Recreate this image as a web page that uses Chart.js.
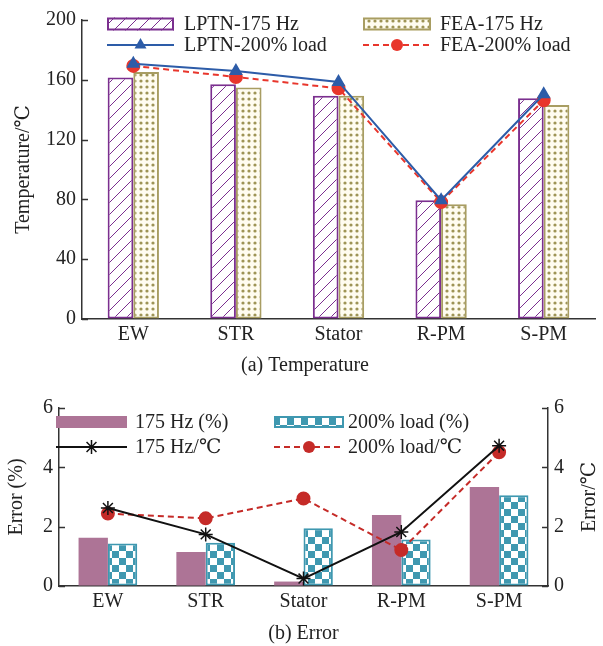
<!DOCTYPE html>
<html>
<head>
<meta charset="utf-8">
<script src="https://cdn.jsdelivr.net/npm/chart.js@4"></script>
<style>
  html, body { margin: 0; padding: 0; background: #fff; }
  #wrap { position: relative; width: 603px; height: 646px; }
  .box { position: absolute; left: 0; width: 603px; }
</style>
</head>
<body>
<div id="wrap">
  <div class="box" style="top:0;height:390px"><canvas id="tempChart"></canvas></div>
  <div class="box" style="top:390px;height:256px"><canvas id="errChart"></canvas></div>
</div>
<script>
// data
const categories = ["EW", "STR", "Stator", "R-PM", "S-PM"];
const lptn175 = [161.5, 157, 149.4, 79.5, 147.7];
const fea175 = [165.3, 154.8, 149.4, 76.8, 143.2];
const lptn200 = [170.8, 165.9, 158.6, 79.5, 150.3];
const fea200 = [169.3, 161.9, 154.3, 78.2, 146.3];

const err175Pct = [1.63, 1.15, 0.15, 2.39, 3.34];
const err200Pct = [1.43, 1.46, 1.95, 1.57, 3.06];
const err175C = [2.63, 1.74, 0.25, 1.82, 4.73];
const err200C = [2.44, 2.28, 2.95, 1.21, 4.51];

const PURPLE = "#7b2f8f", OLIVE = "#a89d62", BLUE = "#2d5ca8", RED = "#e8362c";
const MAUVE = "#ad7496", TEAL = "#3f98b0", DARKRED = "#c52b28";
const FONT = '"Liberation Serif", "DejaVu Serif", "Times New Roman", serif';

Chart.defaults.font.family = FONT;
Chart.defaults.font.size = 20;
Chart.defaults.color = "#222";

// ---- fill patterns ----
function hatchPattern(color) {
  const c = document.createElement("canvas");
  c.width = c.height = 12;
  const g = c.getContext("2d");
  g.fillStyle = "#fff"; g.fillRect(0, 0, 12, 12);
  g.strokeStyle = color; g.lineWidth = 1;
  g.beginPath();
  g.moveTo(0, 12); g.lineTo(12, 0);
  g.moveTo(-2, 2); g.lineTo(2, -2);
  g.moveTo(10, 14); g.lineTo(14, 10);
  g.stroke();
  return g.createPattern(c, "repeat");
}
function dotPattern(color) {
  const c = document.createElement("canvas");
  c.width = c.height = 6;
  const g = c.getContext("2d");
  g.fillStyle = "#fffcf0"; g.fillRect(0, 0, 6, 6);
  g.fillStyle = color;
  g.beginPath(); g.arc(3, 3, 1.6, 0, Math.PI * 2); g.fill();
  return g.createPattern(c, "repeat");
}
function checkPattern(color) {
  const c = document.createElement("canvas");
  c.width = c.height = 14;
  const g = c.getContext("2d");
  g.fillStyle = color; g.fillRect(0, 0, 14, 14);
  g.fillStyle = "#fff";
  g.fillRect(0, 0, 7, 7); g.fillRect(7, 7, 7, 7);
  return g.createPattern(c, "repeat");
}
const hatch = hatchPattern(PURPLE);
const dots = dotPattern("#9e9455");
const checks = checkPattern(TEAL);

// ---- small marker drawer for the legend ----
function marker(ctx, style, x, y, r, color) {
  ctx.save();
  ctx.fillStyle = color; ctx.strokeStyle = color; ctx.lineWidth = 1.5;
  ctx.beginPath();
  if (style === "circle") {
    ctx.arc(x, y, r, 0, Math.PI * 2); ctx.fill();
  } else if (style === "triangle") {
    ctx.moveTo(x, y - r * 1.15); ctx.lineTo(x + r, y + r * 0.6); ctx.lineTo(x - r, y + r * 0.6);
    ctx.closePath(); ctx.fill();
  } else if (style === "star") {
    for (let i = 0; i < 4; i++) {
      const a = i * Math.PI / 4;
      ctx.moveTo(x - r * Math.cos(a), y - r * Math.sin(a));
      ctx.lineTo(x + r * Math.cos(a), y + r * Math.sin(a));
    }
    ctx.stroke();
  }
  ctx.restore();
}

// legend drawn inside the plot area
const inLegend = {
  id: "inLegend",
  afterDatasetsDraw(chart, args, opts) {
    const ctx = chart.ctx;
    ctx.save();
    ctx.font = "20px " + FONT;
    ctx.textBaseline = "middle";
    for (const it of opts.items) {
      if (it.kind === "box") {
        ctx.fillStyle = it.fill;
        ctx.fillRect(it.x1, it.y - it.h / 2, it.x2 - it.x1, it.h);
        if (it.stroke) {
          ctx.strokeStyle = it.stroke; ctx.lineWidth = 2;
          ctx.strokeRect(it.x1 + 1, it.y - it.h / 2 + 1, it.x2 - it.x1 - 2, it.h - 2);
        }
      } else {
        ctx.strokeStyle = it.color; ctx.lineWidth = it.width;
        ctx.setLineDash(it.dash || []);
        ctx.beginPath(); ctx.moveTo(it.x1, it.y); ctx.lineTo(it.x2, it.y); ctx.stroke();
        ctx.setLineDash([]);
        marker(ctx, it.point, (it.x1 + it.x2) / 2, it.y, it.r, it.color);
      }
      ctx.fillStyle = "#222";
      ctx.fillText(it.label, it.tx, it.y + 1);
    }
    ctx.restore();
  }
};

// tick marks pointing into the plot, plus optional right-hand title read bottom-up
const inTicks = {
  id: "inTicks",
  afterDraw(chart, args, opts) {
    const ctx = chart.ctx;
    ctx.save();
    ctx.strokeStyle = "#333"; ctx.lineWidth = 1.5;
    for (const id of opts.axes) {
      const s = chart.scales[id];
      const x0 = s.position === "left" ? s.right : s.left;
      const dir = s.position === "left" ? 1 : -1;
      s.ticks.forEach(t => {
        const y = Math.round(s.getPixelForValue(t.value)) + 0.5;
        ctx.beginPath(); ctx.moveTo(x0, y); ctx.lineTo(x0 + dir * 6, y); ctx.stroke();
      });
    }
    if (opts.rightTitle) {
      const a = chart.chartArea;
      ctx.translate(opts.rightTitle.x, (a.top + a.bottom) / 2);
      ctx.rotate(-Math.PI / 2);
      ctx.font = "20px " + FONT;
      ctx.fillStyle = "#222";
      ctx.textAlign = "center"; ctx.textBaseline = "middle";
      ctx.fillText(opts.rightTitle.text, 0, 0);
    }
    ctx.restore();
  }
};

const axisLine = { display: true, color: "#333", width: 1.5 };
const noGrid = { display: true, drawOnChartArea: false, drawTicks: false };

// ============================
// (a) Temperature
// ============================
new Chart(document.getElementById("tempChart"), {
  type: "bar",
  data: {
    labels: categories,
    datasets: [
      { type: "line", label: "LPTN-200% load", data: lptn200, borderColor: BLUE, backgroundColor: BLUE,
        borderWidth: 2, pointStyle: "triangle", pointRadius: 6, order: 0 },
      { type: "line", label: "FEA-200% load", data: fea200, borderColor: RED, backgroundColor: RED,
        borderWidth: 2, borderDash: [6, 4], pointStyle: "circle", pointRadius: 6, order: 0 },
      { label: "LPTN-175 Hz", data: lptn175, backgroundColor: hatch, borderColor: PURPLE,
        borderWidth: 2, borderSkipped: false, order: 1 },
      { label: "FEA-175 Hz", data: fea175, backgroundColor: dots, borderColor: OLIVE,
        borderWidth: 2, borderSkipped: false, order: 1 }
    ]
  },
  options: {
    responsive: true, maintainAspectRatio: false, animation: false,
    categoryPercentage: 0.5, barPercentage: 1,
    layout: { padding: { left: 12, right: 5, top: 20, bottom: 0 } },
    plugins: {
      legend: { display: false },
      tooltip: { enabled: false },
      title: { display: true, position: "bottom", text: "(a) Temperature", font: { size: 20, weight: "normal" },
        padding: { top: 10, bottom: 12 }, color: "#222" },
      inLegend: { items: [
        { kind: "box", x1: 107, x2: 174, y: 24, h: 13, fill: hatch, stroke: PURPLE, tx: 184, label: "LPTN-175 Hz" },
        { kind: "box", x1: 363, x2: 431, y: 24, h: 13, fill: dots, stroke: OLIVE, tx: 440, label: "FEA-175 Hz" },
        { kind: "line", x1: 107, x2: 174, y: 45, color: BLUE, width: 2, point: "triangle", r: 6, tx: 184, label: "LPTN-200% load" },
        { kind: "line", x1: 363, x2: 431, y: 45, color: RED, width: 2, dash: [6, 4], point: "circle", r: 6, tx: 440, label: "FEA-200% load" }
      ] },
      inTicks: { axes: ["y"] }
    },
    scales: {
      x: { grid: noGrid, border: axisLine, ticks: { padding: 4 },
        afterFit: s => { s.height = 25; } },
      y: { min: 0, max: 200, ticks: { stepSize: 40, padding: 6 }, grid: noGrid, border: axisLine,
        title: { display: true, text: "Temperature/℃", padding: { top: 0, bottom: 0 } },
        afterFit: s => { s.width = 70; } }
    }
  },
  plugins: [inLegend, inTicks]
});

// ============================
// (b) Error
// ============================
new Chart(document.getElementById("errChart"), {
  type: "bar",
  data: {
    labels: categories,
    datasets: [
      { type: "line", label: "175 Hz/℃", data: err175C, yAxisID: "y1", borderColor: "#111", backgroundColor: "#111",
        borderWidth: 2, pointStyle: "star", pointRadius: 7, pointBorderWidth: 1.5, order: 0 },
      { type: "line", label: "200% load/℃", data: err200C, yAxisID: "y1", borderColor: DARKRED, backgroundColor: DARKRED,
        borderWidth: 2, borderDash: [6, 4], pointStyle: "circle", pointRadius: 6, order: 0 },
      { label: "175 Hz (%)", data: err175Pct, backgroundColor: MAUVE, borderWidth: 0, order: 1 },
      { label: "200% load (%)", data: err200Pct, backgroundColor: checks, borderColor: TEAL,
        borderWidth: 2, borderSkipped: false, order: 1 }
    ]
  },
  options: {
    responsive: true, maintainAspectRatio: false, animation: false,
    categoryPercentage: 0.6, barPercentage: 1,
    layout: { padding: { left: 5, right: 1, top: 18, bottom: 0 } },
    plugins: {
      legend: { display: false },
      tooltip: { enabled: false },
      title: { display: true, position: "bottom", text: "(b) Error", font: { size: 20, weight: "normal" },
        padding: { top: 10, bottom: 0 }, color: "#222" },
      inLegend: { items: [
        { kind: "box", x1: 56, x2: 127, y: 32, h: 12, fill: MAUVE, tx: 135, label: "175 Hz (%)" },
        { kind: "box", x1: 274, x2: 344, y: 32, h: 12, fill: checks, stroke: TEAL, tx: 348, label: "200% load (%)" },
        { kind: "line", x1: 56, x2: 127, y: 57, color: "#111", width: 2, point: "star", r: 7, tx: 135, label: "175 Hz/℃" },
        { kind: "line", x1: 274, x2: 344, y: 57, color: DARKRED, width: 2, dash: [6, 4], point: "circle", r: 6, tx: 348, label: "200% load/℃" }
      ] },
      inTicks: { axes: ["y", "y1"], rightTitle: { x: 590, text: "Error/℃" } }
    },
    scales: {
      x: { grid: noGrid, border: axisLine, ticks: { padding: 4 },
        afterFit: s => { s.height = 26; } },
      y: { position: "left", min: 0, max: 6, ticks: { stepSize: 2, padding: 6 }, grid: noGrid, border: axisLine,
        title: { display: true, text: "Error (%)", padding: { top: 0, bottom: 0 } },
        afterFit: s => { s.width = 54; } },
      y1: { position: "right", min: 0, max: 6, ticks: { stepSize: 2, padding: 6 }, grid: noGrid, border: axisLine,
        afterFit: s => { s.width = 54; } }
    }
  },
  plugins: [inLegend, inTicks]
});
</script>
</body>
</html>
